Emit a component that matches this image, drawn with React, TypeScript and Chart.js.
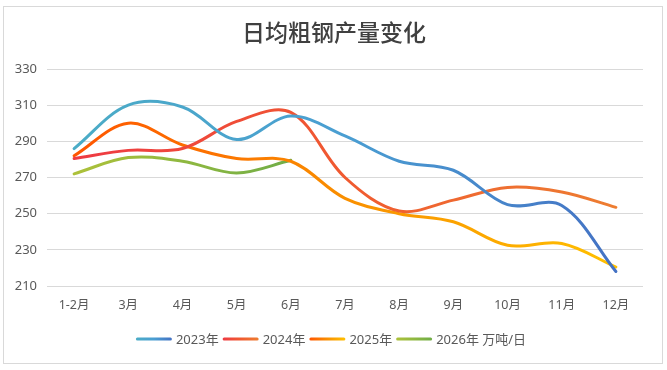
import React, { useEffect, useRef } from 'react';
import { Chart, registerables } from 'chart.js';

Chart.register(...registerables);

// Categories and series (万吨/日)
const months = ['1-2月', '3月', '4月', '5月', '6月', '7月', '8月', '9月', '10月', '11月', '12月'];
const seriesNames = ['2023年', '2024年', '2025年', '2026年'];
const unitText = '万吨/日';
const titleText = '日均粗钢产量变化';

const output2023 = [286, 310, 309, 291, 304, 293, 279, 274, 255, 254.5, 218];
const output2024 = [280.5, 285, 286, 301, 306, 270, 251.5, 257.5, 264.5, 262, 253.5];
const output2025 = [282, 300, 288, 280.5, 279, 258.5, 250, 245.5, 232.5, 233.5, 220.5];
const output2026 = [272, 281, 279, 272.5, 279.5];

const yMin = 210;
const yMax = 330;
const yStep = 20;

// Gradient stops for each series line (left to right)
const lineStops: string[][] = [
  ['#4BACC6', '#4A9ED2', '#4472C4'],
  ['#EE3A43', '#F05A30', '#ED7D31'],
  ['#FF5500', '#F98F00', '#FFC000'],
  ['#ADC13A', '#8FB840', '#70AD47'],
];

const FONT = '"Noto Sans", "Noto Sans CJK SC", sans-serif';

function makeGradient(ctx: CanvasRenderingContext2D, x0: number, x1: number, stops: string[]) {
  const g = ctx.createLinearGradient(x0, 0, x1 === x0 ? x0 + 1 : x1, 0);
  stops.forEach((c, i) => g.addColorStop(i / (stops.length - 1), c));
  return g;
}

const frameAndLegend = {
  id: 'frameAndLegend',
  afterDraw(chart: any) {
    const ctx: CanvasRenderingContext2D = chart.ctx;
    ctx.save();

    // outer frame
    ctx.strokeStyle = '#D9D9D9';
    ctx.lineWidth = 1;
    ctx.strokeRect(3.5, 6.5, 659, 357);

    // title
    ctx.fillStyle = '#404040';
    ctx.textAlign = 'center';
    ctx.textBaseline = 'middle';
    ctx.font = '500 23px "Noto Sans CJK SC", sans-serif';
    ctx.fillText(titleText, 334, 32);

    // legend
    ctx.font = '13px ' + FONT;
    const swatch = 36;
    const gapText = 4;
    const gapItem = 4;
    const labels = chart.data.datasets.map((d: any, i: number) =>
      i === chart.data.datasets.length - 1 ? d.label + ' ' + unitText : d.label
    );
    const widths = labels.map((l: string) => swatch + gapText + ctx.measureText(l).width);
    const total = widths.reduce((a: number, b: number) => a + b, 0) + gapItem * (labels.length - 1);
    let x = 331 - total / 2;
    const y = 339;
    ctx.textAlign = 'left';
    ctx.textBaseline = 'middle';
    labels.forEach((l: string, i: number) => {
      ctx.strokeStyle = makeGradient(ctx, x, x + swatch, lineStops[i]);
      ctx.lineWidth = 3;
      ctx.lineCap = 'round';
      ctx.beginPath();
      ctx.moveTo(x + 1.5, y);
      ctx.lineTo(x + swatch - 1.5, y);
      ctx.stroke();
      ctx.fillStyle = '#595959';
      ctx.fillText(l, x + swatch + gapText, y + 1);
      x += widths[i] + gapItem;
    });
    ctx.restore();
  },
};

export default function App() {
  const canvasRef = useRef<HTMLCanvasElement | null>(null);

  useEffect(() => {
    document.body.style.margin = '0';
    const canvas = canvasRef.current;
    if (!canvas) return;

    const seriesData = [output2023, output2024, output2025, output2026];
    const datasets = seriesData.map((values, i) => ({
      label: seriesNames[i],
      data: values,
      borderWidth: 3,
      pointRadius: 0,
      pointHoverRadius: 0,
      fill: false,
      tension: 0.35,
      borderCapStyle: 'round' as const,
      borderColor: (c: any) => {
        const chart = c.chart;
        const area = chart.chartArea;
        if (!area) return lineStops[i][0];
        const xs = chart.scales.x;
        const x0 = xs.getPixelForValue(0);
        const x1 = xs.getPixelForValue(values.length - 1);
        return makeGradient(chart.ctx, x0, x1, lineStops[i]);
      },
    }));

    const chart = new Chart(canvas, {
      type: 'line',
      data: { labels: months, datasets },
      options: {
        responsive: false,
        animation: false,
        events: [],
        layout: { padding: { left: 0, right: 24, top: 69, bottom: 0 } },
        plugins: {
          legend: { display: false },
          title: { display: false },
          tooltip: { enabled: false },
        },
        scales: {
          x: {
            offset: true,
            grid: { display: false, drawTicks: false },
            border: { display: false },
            ticks: {
              color: '#595959',
              font: { family: FONT, size: 12.5 },
              padding: 12,
              maxRotation: 0,
              autoSkip: false,
            },
            afterFit: (s: any) => {
              s.height = 84;
            },
          },
          y: {
            min: yMin,
            max: yMax,
            grid: { color: '#D9D9D9', lineWidth: 1, drawTicks: false },
            border: { display: false },
            ticks: {
              stepSize: yStep,
              color: '#595959',
              font: { family: FONT, size: 13 },
              padding: 10,
            },
            afterFit: (s: any) => {
              s.width = 47;
            },
          },
        },
      },
      plugins: [frameAndLegend],
    });

    return () => chart.destroy();
  }, []);

  return (
    <div style={{ width: 667, height: 370, background: '#fff' }}>
      <canvas ref={canvasRef} width={667} height={370} style={{ display: 'block' }} />
    </div>
  );
}
